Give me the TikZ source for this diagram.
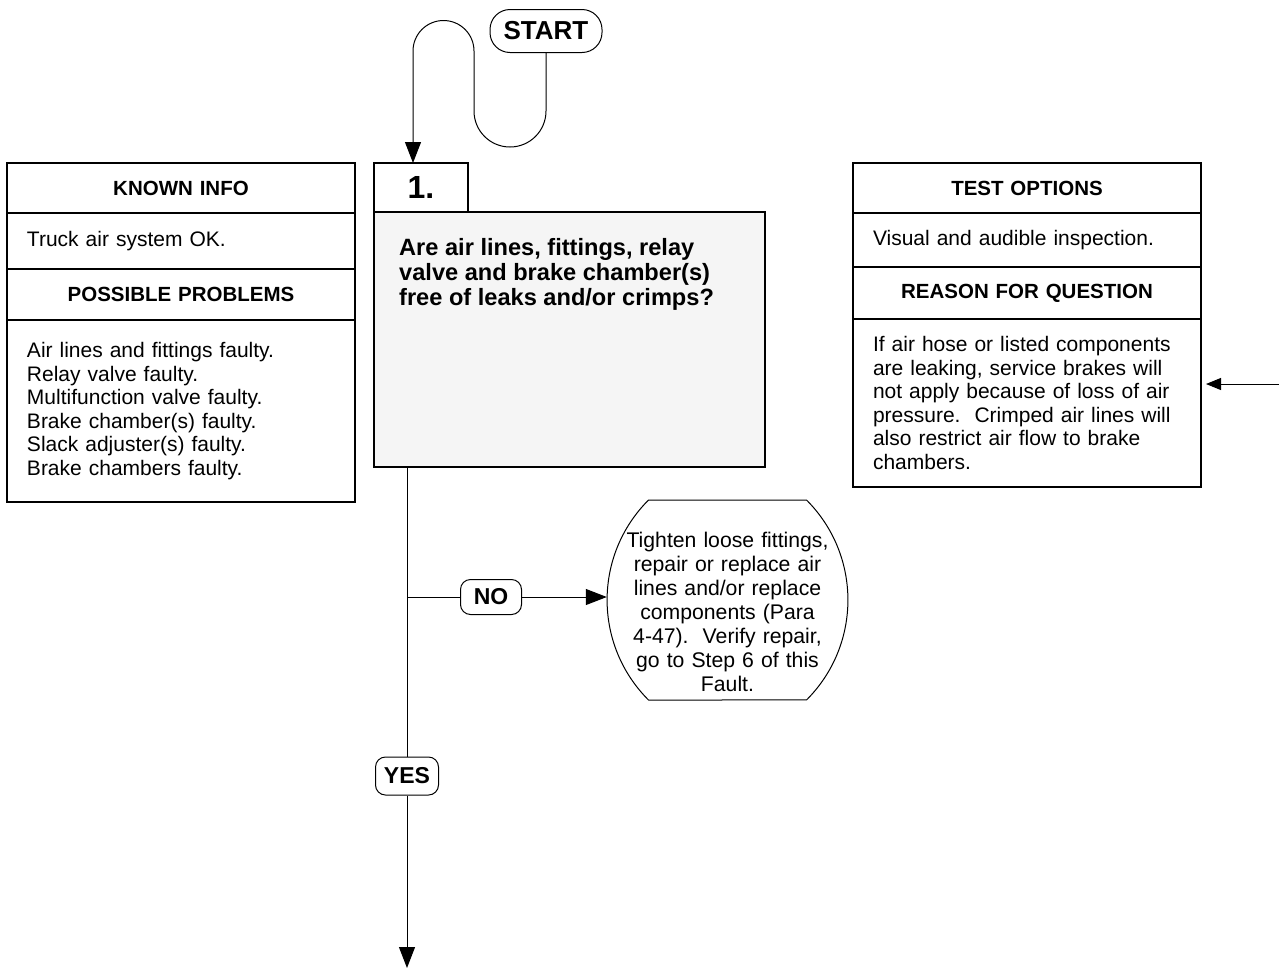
\documentclass[tikz,border=0pt]{standalone}
\usepackage{fontspec}
\setmainfont{Liberation Sans}
\usetikzlibrary{arrows.meta,calc,positioning}
\definecolor{chartInk}{RGB}{0,0,0}
\definecolor{chartShade}{RGB}{245,245,245}
\newcommand{\txtbody}{\fontsize{21}{23.6}\selectfont}
\newcommand{\txthead}{\fontsize{20.5}{24}\selectfont\bfseries}
\newcommand{\txtques}{\fontsize{23.6}{25}\selectfont\bfseries}
\newcommand{\txtfix}{\fontsize{21.2}{24}\selectfont}

\begin{document}
\begin{tikzpicture}[x=1pt,y=1pt,
  infohead/.style={draw=chartInk, line width=1.1pt, outer sep=0pt, minimum width=348pt,
    text width=308pt, inner xsep=20pt, inner ysep=0pt, align=center, font=\txthead},
  infobody/.style={infohead, align=left, font=\txtbody},
  chip/.style={draw=chartInk, rounded corners=10pt, line width=1pt, inner sep=0pt,
    fill=white, font=\fontsize{23}{23}\selectfont\bfseries},
  flow/.style={draw=chartInk, line width=1pt},
  headtip/.style={-{Triangle[length=21pt,width=16pt]}}
]
  \useasboundingbox (0,0) rectangle (1279,-970);
  \node[infohead, minimum height=50pt, anchor=north west] (kihead) at (7,-163) {KNOWN INFO};
  \node[infobody, minimum height=56pt, below=0pt of kihead] (kibody) {Truck air system OK.};
  \node[infohead, minimum height=51pt, below=0pt of kibody] (pphead) {POSSIBLE PROBLEMS};
  \node[infobody, minimum height=182pt, below=0pt of pphead] (ppbody) {Air lines and fittings faulty.\\
    Relay valve faulty.\\ Multifunction valve faulty.\\ Brake chamber(s) faulty.\\
    Slack adjuster(s) faulty.\\ Brake chambers faulty.};
  \node[infohead, minimum height=50pt, anchor=north west] (tohead) at (853,-163) {TEST OPTIONS};
  \node[infobody, minimum height=54pt, below=0pt of tohead] (tobody) {Visual and audible inspection.};
  \node[infohead, minimum height=52pt, below=0pt of tobody] (rqhead) {REASON FOR QUESTION};
  \node[infobody, minimum height=168pt, below=0pt of rqhead] (rqbody) {If air hose or listed components\\
    are leaking, service brakes will\\ not apply because of loss of air\\
    pressure.\ \ Crimped air lines will\\ also restrict air flow to brake\\ chambers.};
  \node[draw=chartInk, line width=1.1pt, outer sep=0pt, minimum width=94pt, minimum height=49pt,
    inner sep=0pt, font=\fontsize{32}{32}\selectfont\bfseries, anchor=north west] (tab1) at (374,-163) {1.};
  \node[draw=chartInk, fill=chartShade, line width=1.1pt, outer sep=0pt, minimum width=391pt,
    minimum height=255pt, anchor=north west] (q1) at (tab1.south west) {};
  \node[anchor=north west, inner sep=0pt, align=left, font=\txtques] (q1text)
    at ($(q1.north west)+(25,-26)$) {Are air lines, fittings, relay\\ valve and brake chamber(s)\\
    free of leaks and/or crimps?};
  \node[draw=chartInk, line width=1pt, rounded corners=20pt, minimum width=112pt, minimum height=43pt,
    inner sep=0pt, font=\fontsize{26}{26}\selectfont\bfseries] (start) at (546,-31) {START};
  \coordinate (tabin) at ($(tab1.north west)+(39,0)$);
  \draw[flow, headtip] (start.south) -- (546,-111) arc[start angle=0,end angle=-180,radius=36]
    -- (474,-51) arc[start angle=0,end angle=180,radius=30.5] -- (tabin);
  \coordinate (q1out) at ($(q1.south west)+(33,0)$);
  \node[chip, minimum width=61pt, minimum height=35pt] (no) at (491,-597) {NO};
  \node[chip, minimum width=63pt, minimum height=38pt] (yes) at ($(q1out)+(0,-309)$) {YES};
  \coordinate (fixc) at (727.5,-600);
  \node[minimum width=241pt, inner sep=0pt, text width=215pt, align=center,
    font=\txtfix] (fix) at ($(fixc)+(0,-12)$) {Tighten loose fittings,\\ repair or replace air\\
    lines and/or replace\\ components (Para\\ 4-47).\ \ Verify repair,\\ go to Step 6 of this\\ Fault.};
  \draw[flow] ($(fixc)+(-79,100)$) -- ($(fixc)+(79,100)$)
    arc[start angle=45,end angle=-45,radius=141.4] -- ($(fixc)+(-79,-100)$)
    arc[start angle=225,end angle=135,radius=141.4] -- cycle;
  \coordinate (endpt) at ($(q1out)+(0,-501)$);
  \draw[flow] (q1out) -- (yes);
  \draw[flow, headtip] (yes) -- (endpt);
  \draw[flow] (q1out |- no) -- (no);
  \draw[flow, headtip] (no) -- (no -| fix.west);
  \coordinate (sidein) at (1279,-384);
  \coordinate (sidetip) at ($(rqbody.north east)+(5,-65)$);
  \draw[flow, -{Triangle[length=15pt,width=12pt]}] (sidein) -- (sidetip);
\end{tikzpicture}
\end{document}
